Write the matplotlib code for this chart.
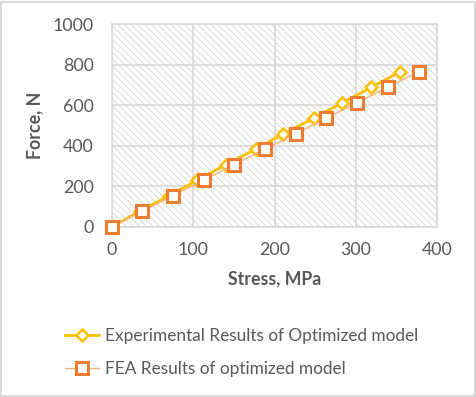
import matplotlib.pyplot as plt
from matplotlib.patches import Rectangle

# Values
exp_stress = [0, 35, 70, 105, 140, 177, 211, 248, 283, 319, 354]
exp_force = [0, 76, 153, 229, 306, 382, 459, 535, 611, 688, 764]
fea_stress = [0, 37.6, 75, 113, 150, 188, 226, 263, 301, 339, 377]
fea_force = [0, 76, 153, 229, 306, 382, 459, 535, 611, 688, 764]

x_ticks = [0, 100, 200, 300, 400]
y_ticks = [0, 200, 400, 600, 800, 1000]

text_col = '#595959'
grid_col = '#d9d9d9'

plt.rcParams['font.family'] = ['Lato', 'DejaVu Sans']
plt.rcParams['hatch.linewidth'] = 0.5

fig = plt.figure(figsize=(4.76, 3.97), dpi=100)
fig.patches.append(Rectangle((0.002, 0.003), 0.995, 0.993, transform=fig.transFigure,
                             fill=False, edgecolor=grid_col, linewidth=1.5))

ax = fig.add_axes([0.2347, 0.4290, 0.6840, 0.5105])
# hatched plot area background
ax.add_patch(Rectangle((0, 0), 1, 1, transform=ax.transAxes, facecolor='white',
                       edgecolor='#cccccc', linewidth=0, hatch='\\' * 5, zorder=0))

ax.plot(exp_stress, exp_force, color='#FFC000', linewidth=2, marker='D', markersize=6,
        markerfacecolor='white', markeredgecolor='#FFC000', markeredgewidth=1.8,
        label='Experimental Results of Optimized model', zorder=3, clip_on=False)
ax.plot(fea_stress, fea_force, color='#F4B183', linewidth=1, marker='s', markersize=8.5,
        markerfacecolor='white', markeredgecolor='#ED7D31', markeredgewidth=2.2,
        label='FEA Results of optimized model', zorder=4, clip_on=False)

ax.set_xlim(0, 400)
ax.set_ylim(0, 1000)
ax.set_xticks(x_ticks)
ax.set_yticks(y_ticks)
ax.grid(True, color=grid_col, linewidth=1.2, zorder=1)
for s in ax.spines.values():
    s.set_color(grid_col)
    s.set_linewidth(1.2)
ax.tick_params(length=0, labelsize=12.8, colors=text_col)
ax.tick_params(axis='x', pad=11)
ax.tick_params(axis='y', pad=13)

ax.set_xlabel('Stress, MPa', fontsize=12.8, fontweight='bold', color=text_col, labelpad=9)
ax.set_ylabel('Force, N', fontsize=12.8, fontweight='bold', color=text_col, labelpad=7)

fig.legend(loc='upper left', bbox_to_anchor=(0.103, 0.214), frameon=False, fontsize=12.4,
           labelcolor=text_col, handlelength=2.0, labelspacing=1.0, handletextpad=0.35)

fig.savefig('out.png', dpi=100, facecolor='white')
